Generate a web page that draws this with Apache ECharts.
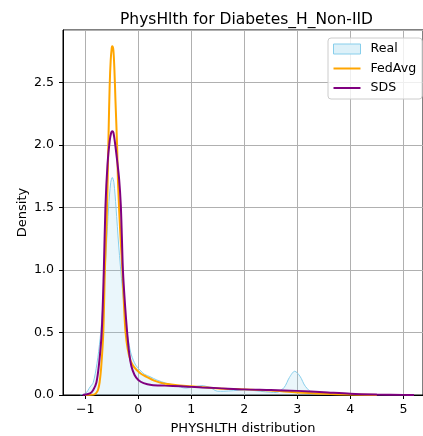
<!DOCTYPE html>
<html>
<head>
<meta charset="utf-8">
<script src="https://cdn.jsdelivr.net/npm/echarts@6/dist/echarts.min.js"></script>
<style>html,body{margin:0;padding:0;background:#fff}#c{width:423px;height:436px}</style>
</head>
<body>
<div id="c"></div>
<script>
const realX = [-1.1,-1.0,-0.91,-0.85,-0.78,-0.72,-0.69,-0.64,-0.6,-0.56,-0.52,-0.49,-0.46,-0.42,-0.37,-0.3,-0.22,-0.18,-0.13,-0.05,0.03,0.12,0.22,0.35,0.53,0.7,0.9,1.05,1.2,1.35,1.5,1.6,1.8,2.0,2.2,2.4,2.6,2.75,2.85,2.95,3.05,3.15,3.3,3.5,4.0,4.5,5.0,5.2];
const realY = [0,0.01,0.064,0.1,0.25,0.45,0.6,0.9,1.2,1.5,1.7,1.74,1.7,1.5,1.2,0.85,0.53,0.42,0.32,0.24,0.2,0.165,0.147,0.12,0.094,0.075,0.055,0.065,0.075,0.06,0.03,0.03,0.035,0.04,0.035,0.025,0.02,0.06,0.14,0.19,0.15,0.07,0.015,0.01,0.005,0.002,0.001,0];
const fedX = [-1.0,-0.85,-0.8,-0.76,-0.73,-0.7,-0.66,-0.63,-0.6,-0.58,-0.56,-0.54,-0.52,-0.5,-0.49,-0.47,-0.45,-0.43,-0.4,-0.38,-0.34,-0.3,-0.27,-0.24,-0.2,-0.15,-0.1,-0.03,0.05,0.15,0.3,0.46,0.7,1.0,1.3,1.6,2.0,2.5,3.0,3.5,4.0,4.5];
const fedY = [0,0.003,0.013,0.04,0.1,0.22,0.5,1.0,1.35,1.67,2.1,2.47,2.68,2.78,2.79,2.76,2.6,2.35,2.0,1.67,1.3,1.0,0.72,0.5,0.37,0.28,0.235,0.2,0.17,0.147,0.115,0.094,0.08,0.07,0.06,0.05,0.045,0.035,0.02,0.01,0.003,0];
const sdsX = [-1.05,-0.91,-0.85,-0.79,-0.74,-0.69,-0.65,-0.62,-0.58,-0.54,-0.51,-0.49,-0.47,-0.44,-0.4,-0.36,-0.33,-0.31,-0.29,-0.25,-0.21,-0.17,-0.13,-0.07,0,0.1,0.25,0.5,0.8,1.0,1.2,1.5,2.0,2.5,3.0,3.5,4.0,4.5,5.0,5.2];
const sdsY = [0,0.013,0.04,0.1,0.25,0.5,1.0,1.5,1.85,2.03,2.1,2.11,2.1,2.02,1.88,1.72,1.52,1.27,1.0,0.72,0.5,0.33,0.23,0.16,0.12,0.095,0.08,0.075,0.07,0.065,0.06,0.055,0.045,0.04,0.033,0.022,0.01,0.004,0.001,0];
const seriesNames = ['Real','FedAvg','SDS'];
const titleText = 'PhysHlth for Diabetes_H_Non-IID';
const xName = 'PHYSHLTH distribution';
const yName = 'Density';

const pairs = (xs, ys) => xs.map((x, i) => [x, ys[i]]);
const FONT = 'DejaVu Sans';
const FS = 12.6;
const chart = echarts.init(document.getElementById('c'));
chart.setOption({
  animation: false,
  backgroundColor: '#fff',
  title: {text: titleText, left: 115, top: 7, textStyle: {fontFamily: FONT, fontSize: 15.5, fontWeight: 'normal', color: '#000'}},
  grid: {left: 63, right: 0, top: 30, bottom: 41, show: true, borderColor: '#000', borderWidth: 1, outerBoundsMode: 'none', containLabel: false},
  legend: {
    orient: 'vertical', left: 328, top: 38, padding: [4, 6, 4, 5], itemGap: 5.5,
    itemWidth: 27, itemHeight: 10,
    backgroundColor: 'rgba(255,255,255,0.8)', borderColor: '#cccccc', borderWidth: 1, borderRadius: 3,
    textStyle: {fontFamily: FONT, fontSize: FS, color: '#000', lineHeight: 14, padding: [0,0,0,5]},
    data: [
      {name: 'Real', icon: 'rect', itemStyle: {color: '#ddf1f9', borderColor: '#87ceeb', borderWidth: 1}},
      {name: 'FedAvg', icon: 'path://M0,4L27,4L27,6L0,6Z', itemStyle: {color: '#FFA500'}},
      {name: 'SDS', icon: 'path://M0,4L27,4L27,6L0,6Z', itemStyle: {color: '#800080'}}
    ]
  },
  xAxis: {
    type: 'value', min: -1.42, max: 5.37, splitNumber: 7,
    name: xName, nameLocation: 'middle', nameGap: 27, nameMoveOverlap: false,
    nameTextStyle: {fontFamily: FONT, fontSize: 13, color: '#000'},
    axisLine: {onZero: false, lineStyle: {color: '#000', width: 1}},
    axisTick: {length: 4, lineStyle: {color: '#000'}},
    axisLabel: {fontFamily: FONT, fontSize: FS, color: '#000', margin: 8, showMinLabel: false, showMaxLabel: false,
      formatter: v => String(v).replace('-', '\u2212')},
    splitLine: {show: true, lineStyle: {color: '#b0b0b0', width: 1}}
  },
  yAxis: {
    type: 'value', min: 0, max: 2.92, splitNumber: 6,
    name: yName, nameLocation: 'middle', nameGap: 34, nameMoveOverlap: false,
    nameTextStyle: {fontFamily: FONT, fontSize: 13, color: '#000'},
    axisLine: {show: true, onZero: false, lineStyle: {color: '#000', width: 1}},
    axisTick: {show: true, length: 4, lineStyle: {color: '#000'}},
    axisLabel: {fontFamily: FONT, fontSize: FS, color: '#000', margin: 9, showMaxLabel: false,
      formatter: v => v.toFixed(1)},
    splitLine: {show: true, lineStyle: {color: '#b0b0b0', width: 1}}
  },
  series: [
    {name: seriesNames[0], type: 'line', data: pairs(realX, realY), smooth: 0.3, symbol: 'none',
      lineStyle: {color: '#87ceeb', width: 1}, itemStyle: {color: '#87ceeb'},
      areaStyle: {color: 'rgba(135,206,235,0.25)'}},
    {name: seriesNames[1], type: 'line', data: pairs(fedX, fedY), smooth: 0.3, symbol: 'none',
      lineStyle: {color: '#FFA500', width: 2}, itemStyle: {color: '#FFA500'}},
    {name: seriesNames[2], type: 'line', data: pairs(sdsX, sdsY), smooth: 0.3, symbol: 'none',
      lineStyle: {color: '#800080', width: 2}, itemStyle: {color: '#800080'}}
  ]
});
</script>
</body>
</html>
